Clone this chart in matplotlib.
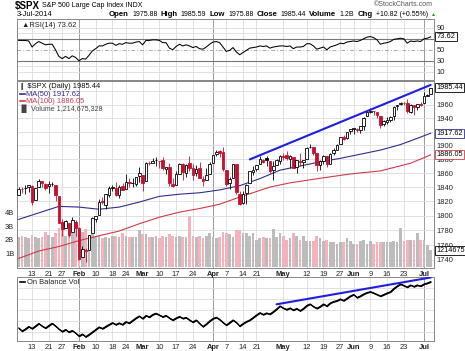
import matplotlib
matplotlib.use("Agg")
import matplotlib.pyplot as plt
import matplotlib.transforms as mtrans
from matplotlib.ticker import FixedLocator, NullLocator, FixedFormatter
from matplotlib.lines import Line2D

# ---------------- data (trading days 7-Jan-2014 .. 3-Jul-2014) ----------------
opens = [1828.71,1837.90,1839.00,1840.06,1841.26,1821.36,1840.52,1847.99,1844.23,1841.05,
         1844.71,1842.29,1826.96,1791.03,1783.00,1790.15,1777.17,1790.88,1782.68,1743.82,
         1753.38,1752.99,1776.01,1796.20,1800.45,1820.12,1814.82,1828.46,1839.03,1838.22,
         1829.24,1841.07,1836.78,1847.66,1845.79,1844.90,1855.12,1857.68,1849.23,1874.05,
         1874.18,1878.52,1877.86,1878.26,1866.15,1869.06,1845.07,1842.81,1858.92,1872.25,
         1860.09,1874.53,1867.67,1859.48,1867.09,1852.11,1850.07,1859.16,1873.96,1886.61,
         1891.43,1890.25,1863.92,1845.48,1852.64,1872.28,1830.65,1818.18,1831.45,1846.01,
         1861.73,1865.79,1872.57,1879.32,1881.97,1877.72,1865.00,1870.78,1877.10,1884.39,
         1885.30,1879.45,1883.69,1868.53,1877.39,1875.27,1880.03,1896.75,1897.13,1888.16,
         1871.19,1876.66,1884.88,1873.34,1888.19,1893.32,1902.01,1911.77,1910.60,1920.33,
         1923.87,1923.07,1923.06,1928.52,1942.41,1948.97,1950.34,1949.37,1943.35,1930.80,
         1934.84,1937.15,1942.73,1957.50,1960.45,1962.92,1961.97,1949.27,1959.89,1956.56,
         1960.79,1962.29,1973.06,1975.88]
highs = [1840.10,1840.02,1843.23,1843.15,1843.45,1839.26,1850.84,1847.99,1846.04,1849.31,
         1846.87,1842.29,1826.96,1795.98,1793.87,1790.15,1798.77,1793.88,1784.83,1758.73,
         1755.79,1774.06,1798.03,1799.94,1823.54,1826.55,1830.25,1841.65,1842.87,1847.50,
         1842.79,1846.13,1858.71,1852.91,1852.65,1854.53,1867.92,1857.68,1876.23,1876.53,
         1881.94,1883.57,1877.87,1882.35,1868.38,1874.40,1852.44,1862.30,1873.76,1874.14,
         1873.49,1883.97,1873.34,1871.87,1875.92,1855.55,1866.63,1875.18,1885.84,1893.17,
         1893.80,1897.28,1864.04,1854.95,1872.43,1872.53,1835.07,1834.19,1844.02,1862.31,
         1869.63,1871.89,1884.89,1879.75,1884.06,1877.72,1877.01,1880.60,1885.20,1888.59,
         1891.33,1885.51,1883.69,1878.83,1889.07,1878.57,1897.13,1902.17,1897.13,1888.16,
         1878.28,1886.00,1884.88,1888.80,1896.33,1901.26,1912.28,1914.46,1920.03,1924.03,
         1925.88,1925.07,1928.63,1941.74,1949.44,1955.55,1950.86,1949.37,1943.35,1937.30,
         1941.15,1943.69,1957.74,1959.87,1963.91,1963.74,1968.17,1960.83,1959.89,1961.47,
         1964.24,1978.58,1976.67,1985.59]
lows = [1828.71,1831.40,1830.38,1832.43,1815.52,1821.36,1840.52,1840.30,1835.23,1832.38,
        1840.88,1820.06,1790.29,1772.88,1783.00,1770.45,1777.17,1772.26,1739.66,1743.82,
        1737.92,1752.99,1776.01,1791.83,1800.41,1815.97,1809.22,1825.59,1835.01,1826.99,
        1824.58,1835.60,1836.78,1840.19,1840.66,1841.13,1847.67,1834.44,1849.23,1871.11,
        1874.18,1870.56,1867.04,1863.88,1858.39,1841.86,1839.57,1842.81,1858.92,1850.35,
        1854.63,1863.46,1849.69,1855.96,1852.56,1842.11,1850.07,1859.16,1873.96,1883.79,
        1882.65,1863.26,1841.48,1837.49,1852.38,1830.87,1814.36,1815.80,1816.29,1846.01,
        1856.72,1863.18,1872.57,1873.91,1870.24,1859.70,1850.61,1870.78,1872.69,1878.04,
        1878.50,1866.77,1867.72,1859.79,1870.05,1867.02,1880.03,1896.06,1885.77,1862.36,
        1864.82,1872.42,1868.14,1873.34,1885.39,1893.32,1902.01,1907.30,1909.82,1916.64,
        1915.98,1918.79,1918.60,1922.93,1942.41,1947.16,1944.64,1940.08,1925.78,1927.69,
        1930.91,1933.55,1937.41,1952.26,1959.17,1958.89,1948.34,1947.49,1944.69,1952.18,
        1958.22,1962.29,1972.58,1975.88]
closes = [1837.88,1837.49,1838.13,1842.37,1819.20,1838.88,1848.38,1845.89,1838.70,1843.80,
          1844.86,1828.46,1790.29,1781.56,1792.50,1774.20,1794.19,1782.59,1741.89,1755.20,
          1751.64,1773.43,1797.02,1799.84,1819.75,1819.26,1829.83,1838.63,1840.76,1828.75,
          1839.78,1836.25,1847.61,1845.12,1845.16,1854.29,1859.45,1845.73,1873.91,1873.81,
          1877.03,1878.04,1877.17,1867.63,1868.20,1846.34,1841.13,1858.83,1872.25,1860.77,
          1872.01,1866.52,1857.44,1865.62,1852.56,1849.04,1857.62,1872.34,1885.52,1890.90,
          1888.77,1865.09,1845.04,1851.96,1872.18,1833.08,1815.69,1830.61,1842.98,1862.31,
          1864.85,1871.89,1879.55,1875.39,1878.61,1863.40,1869.43,1878.33,1883.95,1883.68,
          1881.14,1884.66,1867.72,1878.21,1875.63,1878.48,1896.65,1897.45,1888.53,1870.85,
          1877.86,1885.08,1872.83,1888.03,1892.49,1900.53,1911.91,1909.78,1920.03,1923.57,
          1924.97,1924.24,1927.88,1940.46,1949.44,1951.27,1950.79,1943.89,1930.11,1936.16,
          1937.78,1941.99,1956.98,1959.48,1962.87,1962.61,1949.98,1959.53,1957.22,1960.96,
          1960.23,1973.32,1974.62,1985.44]
prev_close0 = 1826.77

volume_b = [2.2,2.3,2.2,2.1,2.35,2.2,2.1,2.2,2.6,2.35,
            2.2,2.5,2.9,2.8,2.3,2.8,2.5,2.8,3.1,2.6,
            2.8,2.3,2.4,2.2,2.3,2.1,2.2,2.1,2.3,2.3,
            2.2,2.5,2.3,2.2,2.2,2.2,2.7,2.4,2.4,2.2,
            2.2,2.3,2.1,2.3,2.2,2.4,2.3,2.2,2.3,2.2,
            2.2,3.8,2.3,2.2,2.3,2.1,2.3,2.5,2.2,2.1,
            2.2,2.6,2.5,2.4,2.2,2.7,2.7,2.5,2.5,2.3,
            2.5,2.0,2.1,2.2,2.1,2.1,2.8,2.2,2.5,2.3,
            2.0,2.1,2.5,2.3,2.0,2.3,1.9,1.9,1.9,2.3,
            2.1,1.9,2.0,1.8,1.8,1.7,1.8,1.8,2.1,1.9,
            1.7,1.7,1.9,2.0,1.7,1.9,1.7,1.8,1.8,1.8,
            1.8,1.8,1.9,1.8,2.85,1.9,2.0,2.0,2.0,2.5,
            2.0,2.0,1.6,1.215]

rsi = [67,67,67,66,55,61,65,62,59,60,
       60,50,38,34,38,34,39,36,30,34,
       33,40,48,52,57,57,60,62,62,58,
       61,60,63,62,62,64,65,59,67,67,
       68,68,67,63,63,53,50,56,60,57,
       59,57,54,56,52,51,55,60,64,65,
       63,55,47,49,54,46,41,45,49,53,
       54,55,57,56,57,53,55,56,57,57,
       56,57,52,55,55,56,61,61,57,51,
       53,55,50,55,57,59,62,61,64,65,
       66,65,67,70,73,74,72,68,60,62,
       63,65,69,70,71,70,62,66,65,66,
       65,70,71,73.62]

obv = [13,10,12,14.5,12.5,15,17.5,15,13,15.5,
       17.7,15,12,9.5,11.5,9,10.5,8,5,7,
       4.3,6.5,9,11.5,14,12.5,14.5,16.5,18.3,16.5,
       18,16.5,19.3,18,20.5,23,25,22.5,25.5,24,
       26.5,27.7,26,24.3,25.5,23,21,23,24.5,22.7,
       23.5,21,19,21,17.5,14.5,17,20,22.5,23.7,
       21.5,18.5,16,18.5,21,18.5,15,17.5,19.5,21,
       23.5,26,28.3,26.5,28,27,29.3,32,35,33,
       31.5,33,31,32.5,30.3,32.5,35.5,37,34.5,32.7,
       34.5,37,35,38,39.5,40.3,42,40.5,42.7,45,
       46.5,43.5,45,47,48.5,49.3,48,46.5,45,46.5,
       48,49.3,52.5,55,57,55.5,54,56,54.5,56,
       55,57,58,59.3]

ma50_idx = [0,12,18,24,30,36,42,48,54,60,66,72,78,84,90,96,102,108,114,120,123]
ma50_val = [1795,1813,1812,1809,1812,1819,1827,1830,1832,1836,1842,1852,1864,1870,1876,1881,1887,1893,1901,1912,1917.62]
ma100_idx = [0,6,12,18,24,30,36,42,48,54,60,66,75,81,90,99,108,117,123]
ma100_val = [1742,1752,1758,1766,1772.6,1779,1789,1798,1805,1810,1816,1826,1840,1846,1852.5,1858.6,1863,1874,1886.05]

price_trend_x = [69, 123]
price_trend_y = [1879.5, 1990]
obv_trend_x = [77, 123]
obv_trend_y = [36.7, 63.5]

tick_idx = [4,9,13,18,23,28,32,37,42,47,52,58,62,67,71,79,86,91,96,100,105,110,115,121]
tick_lab = ["13","21","27","Feb","10","18","24","Mar","10","17","24","Apr","7","14","21",
            "May","12","19","27","Jun","9","16","23","Jul"]
month_labels = {"Feb","Mar","Apr","May","Jun","Jul"}
dark_months = {"Feb","Apr","Jul"}

price_ticks = [1740,1760,1780,1800,1820,1840,1860,1880,1900,1940,1960]
vol_ticks = [1,2,3,4]
rsi_ticks = [10,30,50,90]

# ---------------- styling ----------------
W, H = 465, 351
FS = 5.4
RED = "#c8102e"
NAVY = "#2e2e8f"
MARED = "#d03a4c"
BLUE = "#1f1fe0"
GRID = "#dcdcdc"
plt.rcParams["font.family"] = ["Liberation Sans", "DejaVu Sans"]

fig = plt.figure(figsize=(W/100, H/100), dpi=100)
fig.patch.set_facecolor("white")

def rect(l, t, r, b):
    return [l/W, 1-b/H, (r-l)/W, (b-t)/H]

def fx(x):
    return x/W

def fy(y):
    return 1-y/H

XL = (-0.5, 124.0)
ax_obv = fig.add_axes(rect(17, 277, 434, 341))
ax_rsi = fig.add_axes(rect(17, 19, 434, 80))
ax_v = fig.add_axes(rect(17, 81, 434, 268))
ax_p = fig.add_axes(rect(17, 81, 434, 268), sharex=ax_v)
ax_p.patch.set_visible(False)
ax_p.set_zorder(ax_v.get_zorder()+1)

n = len(closes)
xs = list(range(n))

for ax in (ax_rsi, ax_v, ax_p, ax_obv):
    ax.set_xlim(*XL)
    for s in ax.spines.values():
        s.set_color("#888888")
        s.set_linewidth(0.7)
    ax.tick_params(length=0, labelsize=FS, colors="#222222", pad=2)

def vgrid(ax):
    for i, lab in zip(tick_idx, tick_lab):
        if lab in dark_months:
            ax.axvline(i, color="#9a9a9a", lw=0.7, zorder=0)
        else:
            ax.axvline(i, color=GRID, lw=0.6, zorder=0)

# ---------------- OBV ----------------
ax_obv.set_ylim(0, 64)
vgrid(ax_obv)
for g in (9, 20, 31, 42, 53):
    ax_obv.axhline(g, color=GRID, lw=0.6, zorder=0)
ax_obv.set_yticks([])
ax_obv.set_xticks(tick_idx)
ax_obv.set_xticklabels(tick_lab)
for lbl in ax_obv.get_xticklabels():
    if lbl.get_text() in month_labels:
        lbl.set_fontweight("bold")

# OBV line in a transparent overlay axes drawn on top
ax_obv2 = fig.add_axes(rect(17, 277, 434, 341))
ax_obv2.set_zorder(10)
ax_obv2.patch.set_visible(False)
ax_obv2.set_xlim(*XL)
ax_obv2.set_ylim(0, 64)
ax_obv2.axis("off")
half = 0.4
ax_obv2.fill_between(xs, [v - half for v in obv], [v + half for v in obv],
                     color="black", linewidth=0.5, edgecolor="black")
ax_obv2.plot(xs, obv, color="black", lw=0.8)
ax_obv2.plot(obv_trend_x, obv_trend_y, color=BLUE, lw=1.5, solid_capstyle="round")

fig.add_artist(Line2D([fx(19.5), fx(25)], [fy(282.3), fy(282.3)], color="black", lw=1.2))
fig.text(fx(27), fy(282.3), "On Balance Vol", fontsize=FS, color="#222222", va="center")

# ---------------- RSI ----------------
ax_rsi.set_ylim(-5, 106)
vgrid(ax_rsi)
for g in (10, 20, 80, 90):
    ax_rsi.axhline(g, color=GRID, lw=0.6, zorder=0)
ax_rsi.axhline(70, color="#777777", lw=0.8, zorder=1)
ax_rsi.axhline(30, color="#777777", lw=0.8, zorder=1)
ax_rsi.axhline(50, color="#aaaaaa", lw=0.7, ls=(0, (4, 2, 1, 2)), zorder=1)
ax_rsi.plot(xs, rsi, color="black", lw=0.75, zorder=3)
ax_rsi.yaxis.tick_right()
ax_rsi.set_yticks(rsi_ticks)
ax_rsi.set_yticklabels([str(t) for t in rsi_ticks])
ax_rsi.set_xticks([])
tr = mtrans.blended_transform_factory(ax_rsi.transAxes, ax_rsi.transData)
ax_rsi.text(1.006, rsi[-1], "%.2f" % rsi[-1], transform=tr, fontsize=FS, va="center", ha="left",
            bbox=dict(boxstyle="square,pad=0.15", fc="white", ec="black", lw=0.6), clip_on=False)
ax_rsi.text(0.012, 0.9, "\u25B2RSI(14) 73.62", transform=ax_rsi.transAxes, fontsize=FS,
            va="center", ha="left", color="#222222")

# ---------------- Volume (under price) ----------------
ax_v.set_ylim(-0.11, 13.84)
vgrid(ax_v)
vcols = []
pc = prev_close0
for cl in closes:
    vcols.append("#f2b3bd" if cl < pc else "#bcbcbc")
    pc = cl
ax_v.bar(xs, volume_b, width=0.8, color=vcols, zorder=2, linewidth=0)
ax_v.set_yticks(vol_ticks)
ax_v.set_yticklabels(["%dB" % v for v in vol_ticks])
ax_v.tick_params(axis="x", labelbottom=False)

# ---------------- Price ----------------
ax_p.set_yscale("log")
ax_p.set_ylim(1729.3, 1996)
ax_p.yaxis.set_major_locator(FixedLocator(price_ticks))
ax_p.yaxis.set_major_formatter(FixedFormatter([str(t) for t in price_ticks]))
ax_p.yaxis.set_minor_locator(NullLocator())
ax_p.yaxis.tick_right()
ax_p.tick_params(length=0, labelsize=FS, pad=2)

for t in price_ticks + [1920, 1980]:
    yd = ax_p.transData.transform((0, t))[1]
    ya = ax_v.transAxes.inverted().transform((0, yd))[1]
    ax_v.plot([0, 1], [ya, ya], transform=ax_v.transAxes, color=GRID, lw=0.6, zorder=0)

pc = prev_close0
for i in range(n):
    op, hi_, lo_, cl = opens[i], highs[i], lows[i], closes[i]
    col = RED if cl < pc else "black"
    ax_p.vlines(i, lo_, hi_, color=col, lw=0.6, zorder=3)
    b0, b1 = min(op, cl), max(op, cl)
    if b1 - b0 < 0.3:
        b1 = b0 + 0.3
    if cl >= op:
        ax_p.bar(i, b1-b0, bottom=b0, width=0.78, facecolor="white", edgecolor=col, lw=0.6, zorder=4)
    else:
        ax_p.bar(i, b1-b0, bottom=b0, width=0.78, facecolor=col, edgecolor=col, lw=0.6, zorder=4)
    pc = cl

ax_p.plot(ma50_idx, ma50_val, color=NAVY, lw=0.8, zorder=2)
ax_p.plot(ma100_idx, ma100_val, color=MARED, lw=0.8, zorder=2)
ax_p.plot(price_trend_x, price_trend_y, color=BLUE, lw=1.5, zorder=5, solid_capstyle="round")

ax_p.set_xticks(tick_idx)
ax_p.set_xticklabels(tick_lab)
for lbl in ax_p.get_xticklabels():
    if lbl.get_text() in month_labels:
        lbl.set_fontweight("bold")

trp = mtrans.blended_transform_factory(ax_p.transAxes, ax_p.transData)
for val, ec in ((closes[-1], "black"), (ma50_val[-1], NAVY), (ma100_val[-1], MARED)):
    ax_p.text(1.006, val, "%.2f" % val, transform=trp, fontsize=FS-0.2, va="center", ha="left",
              bbox=dict(boxstyle="square,pad=0.15", fc="white", ec=ec, lw=0.6), clip_on=False, zorder=10)
yv = ax_p.transAxes.inverted().transform(ax_v.transData.transform((0, volume_b[-1])))[1]
ax_p.text(1.006, yv, "1214675", transform=ax_p.transAxes, fontsize=FS-0.2, va="center", ha="left",
          bbox=dict(boxstyle="square,pad=0.15", fc="white", ec="black", lw=0.6), clip_on=False, zorder=10)

# price legend
fig.text(fx(19), fy(86.7), "\u2759 $SPX (Daily) 1985.44", fontsize=FS, color="#111111", va="center")
fig.text(fx(26), fy(94.2), "MA(50) 1917.62", fontsize=FS, color=NAVY, va="center")
fig.text(fx(26), fy(101.5), "MA(100) 1886.05", fontsize=FS, color=MARED, va="center")
fig.text(fx(19), fy(108.5), "\u2590\u258c Volume 1,214,675,328", fontsize=FS*0.95, color="#444444", va="center")
fig.add_artist(Line2D([fx(19.5), fx(25)], [fy(94.2), fy(94.2)], color=NAVY, lw=1.2))
fig.add_artist(Line2D([fx(19.5), fx(25)], [fy(101.5), fy(101.5)], color=MARED, lw=1.2))

# ---------------- header ----------------
fig.text(fx(15), fy(5.5), "$SPX", fontsize=7.0, fontweight="bold", va="center")
fig.text(fx(42), fy(5.5), "S&P 500 Large Cap Index INDX", fontsize=5.0, va="center")
fig.text(fx(433), fy(4.5), "\u00a9StockCharts.com", fontsize=5.0, color="#555555", va="center", ha="right")
fig.text(fx(17), fy(14.2), "3-Jul-2014", fontsize=FS, va="center")

hdr = [("Open", True), ("1975.88", False), ("High", True), ("1985.59", False),
       ("Low", True), ("1975.88", False), ("Close", True), ("1985.44", False),
       ("Volume", True), ("1.2B", False), ("Chg", True), ("+10.82 (+0.55%)", False)]
renderer = fig.canvas.get_renderer()
htexts = []
for txt, bold in hdr:
    t = fig.text(0, fy(14.2), txt, fontsize=(5.6 if bold else 5.0),
                 fontweight=("bold" if bold else "normal"), va="center")
    htexts.append((t, t.get_window_extent(renderer).width))
x0, x1 = 109.0, 428.0
gap = (x1 - x0 - sum(w for _, w in htexts)) / (len(htexts) - 1)
cur = x0
for t, w in htexts:
    t.set_x(fx(cur))
    cur += w + gap
fig.text(fx(430.5), fy(14.5), "\u25B2", fontsize=3.6, color="#1a9a1a", va="center")

fig.savefig("out.png", dpi=100, facecolor="white")
